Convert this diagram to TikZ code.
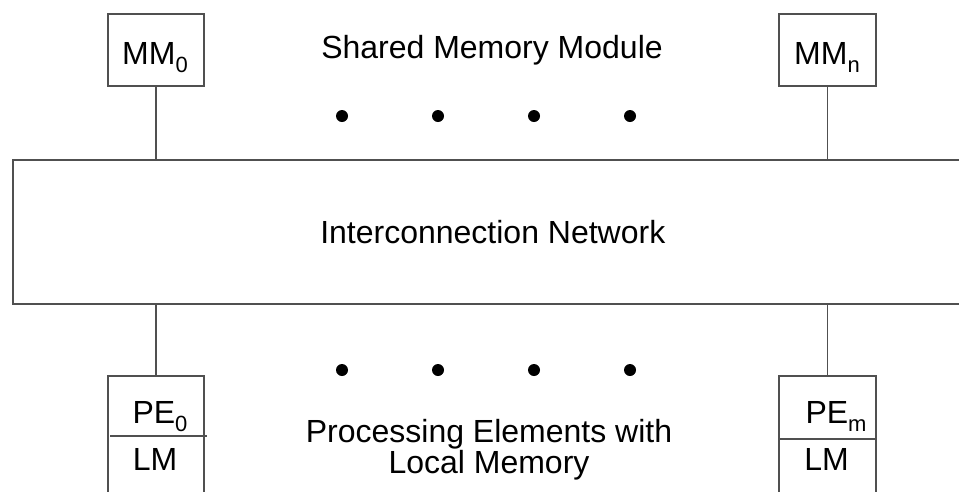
\documentclass[tikz,border=0pt]{standalone}
\usepackage{fontspec}
\setmainfont{Liberation Sans}
\usetikzlibrary{positioning}

\newcommand{\lowidx}[1]{\raisebox{-0.28em}{\fontsize{22pt}{22pt}\selectfont #1}}

\begin{document}
\begin{tikzpicture}[
	every node/.style={font=\fontsize{32pt}{31pt}\selectfont},
	unit/.style={draw=lineColour, line width=1.6pt, minimum width=96pt, inner sep=0pt},
	wire/.style={draw=lineColour, line width=1.6pt}]
					\definecolor{lineColour}{RGB}{80, 80, 80}

					\useasboundingbox (0pt, 0pt) rectangle (959pt, -491pt);
					\clip (0pt, 0pt) rectangle (959pt, -491pt);

					\node[unit, minimum height=72pt] (mm0) at (156pt, -50pt) {};
					\node[anchor=base] (mm0name) at (155pt, -64pt) {MM\lowidx{0}};
					\node[unit, minimum width=97pt, minimum height=72pt] (mmn) at (827.5pt, -50pt) {};
					\node[anchor=base] (mmnname) at (827pt, -64pt) {MM\lowidx{n}};
					\node[anchor=base] (shared) at (492pt, -58pt) {Shared Memory Module};

					\node[unit, minimum width=960pt, minimum height=144pt, anchor=north west] (net) at (12pt, -159pt) {Interconnection Network};

					\node[unit, minimum height=130pt, anchor=north] (pe0) at (156pt, -375pt) {};
					\node[anchor=base] (pe0name) at (160pt, -423pt) {PE\lowidx{0}};
					\node[anchor=base] (lm0) at (155pt, -470pt) {LM};
					\draw[wire] (110pt, -436pt) -- (207pt, -436pt);

					\node[unit, minimum width=97pt, minimum height=130pt, anchor=north] (pem) at (827.5pt, -375pt) {};
					\node[anchor=base] (pemname) at (836pt, -423pt) {PE\lowidx{m}};
					\node[anchor=base] (lmm) at (826.5pt, -470pt) {LM};
					\draw[wire] (779pt, -439pt) -- (876pt, -439pt);

					\node[align=center, anchor=north, inner sep=0pt] (pelabel) at (489pt, -419pt) {Processing Elements with\\Local Memory};

					\draw[wire] (mm0.south) -- (mm0.south |- net.north);
					\draw[wire] (mmn.south) -- (mmn.south |- net.north);
					\draw[wire] (pe0.north |- net.south) -- (pe0.north);
					\draw[wire] (pem.north |- net.south) -- (pem.north);

					\foreach \x in {342pt, 438pt, 534pt, 630pt} {
						\fill (\x, -116pt) circle (6pt);
						\fill (\x, -370pt) circle (6pt);
					}
				\end{tikzpicture}
\end{document}
